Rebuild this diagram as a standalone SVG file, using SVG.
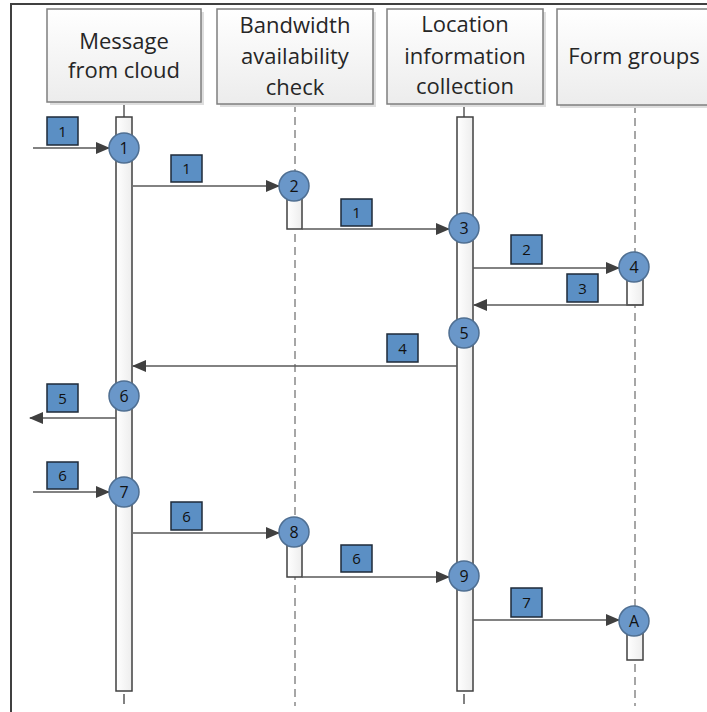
<svg xmlns="http://www.w3.org/2000/svg" width="707" height="712" viewBox="0 0 707 712">
<defs>
<linearGradient id="hg" x1="0" y1="0" x2="0" y2="1"><stop offset="0" stop-color="#ffffff"/><stop offset="1" stop-color="#ececec"/></linearGradient>
<linearGradient id="bg" x1="0" y1="0" x2="1" y2="0"><stop offset="0" stop-color="#ffffff"/><stop offset="1" stop-color="#ededed"/></linearGradient>
<marker id="ah" markerUnits="userSpaceOnUse" markerWidth="14" markerHeight="12" refX="13" refY="6" orient="auto"><path d="M0,0 L14,6 L0,12 z" fill="#404040"/></marker>
<style>
.frame{fill:none;stroke:#404040;stroke-width:2}
.hdr{fill:url(#hg);stroke:#7f7f7f;stroke-width:1.5}
.shd{fill:#dedede}
.ht{font-family:"Open Sans","Liberation Sans",sans-serif;font-size:22px;fill:#262626;text-anchor:middle}
.life{stroke:#a6a6a6;stroke-width:2;stroke-dasharray:8,5;fill:none}
.tick{stroke:#595959;stroke-width:1.5}
.bar{fill:url(#bg);stroke:#404040;stroke-width:1.5}
.msg{stroke:#595959;stroke-width:1.6;fill:none;marker-end:url(#ah)}
.lb{fill:#5b8fc4;stroke:#1e2a38;stroke-width:1.5}
.lt{font-family:"Open Sans","Liberation Sans",sans-serif;font-size:15px;fill:#111;text-anchor:middle}
.cc{fill:#6a97c9;stroke:#4f6f92;stroke-width:1.5}
.ct{font-family:"Open Sans","Liberation Sans",sans-serif;font-size:16px;fill:#111;text-anchor:middle}
</style>
</defs>
<rect width="707" height="712" fill="#ffffff"/>
<rect class="frame" x="11" y="4" width="720" height="730"/>

<g id="lifelines">
<line class="tick" x1="124" y1="102" x2="124" y2="117"/>
<line class="tick" x1="124" y1="694" x2="124" y2="704"/>
<line class="life" x1="295" y1="104" x2="295" y2="706"/>
<line class="tick" x1="464" y1="104" x2="464" y2="117"/>
<line class="tick" x1="464" y1="694" x2="464" y2="704"/>
<line class="life" x1="635" y1="105" x2="635" y2="706"/>
</g>

<g id="header-message">
<rect class="shd" x="50" y="12" width="154" height="93"/>
<rect class="hdr" x="47" y="9" width="154" height="93"/>
<text class="ht" x="124" y="49">Message</text>
<text class="ht" x="124" y="78">from cloud</text>
</g>
<g id="header-bandwidth">
<rect class="shd" x="220" y="12" width="156" height="95"/>
<rect class="hdr" x="217" y="9" width="156" height="95"/>
<text class="ht" x="295" y="33">Bandwidth</text>
<text class="ht" x="295" y="64">availability</text>
<text class="ht" x="295" y="95">check</text>
</g>
<g id="header-location">
<rect class="shd" x="390" y="12" width="156" height="95"/>
<rect class="hdr" x="387" y="9" width="156" height="95"/>
<text class="ht" x="465" y="32">Location</text>
<text class="ht" x="465" y="64">information</text>
<text class="ht" x="465" y="94">collection</text>
</g>
<g id="header-form">
<rect class="shd" x="560" y="12" width="156" height="96"/>
<rect class="hdr" x="557" y="9" width="156" height="96"/>
<text class="ht" x="634" y="64">Form groups</text>
</g>

<g id="activations">
<rect class="bar" x="116" y="117" width="16" height="574"/>
<rect class="bar" x="457" y="117" width="16" height="574"/>
<rect class="bar" x="287" y="196" width="15" height="33"/>
<rect class="bar" x="627" y="278" width="16" height="27"/>
<rect class="bar" x="287" y="543" width="15" height="34"/>
<rect class="bar" x="627" y="632" width="16" height="28"/>
</g>

<g id="connectors">
<line class="msg" x1="33" y1="148" x2="109" y2="148"/>
<line class="msg" x1="133" y1="186" x2="279" y2="186"/>
<line class="msg" x1="302" y1="229" x2="449" y2="229"/>
<line class="msg" x1="473" y1="268" x2="619" y2="268"/>
<line class="msg" x1="643" y1="305" x2="474" y2="305"/>
<line class="msg" x1="457" y1="366" x2="133" y2="366"/>
<line class="msg" x1="116" y1="418" x2="30" y2="418"/>
<line class="msg" x1="33" y1="492" x2="109" y2="492"/>
<line class="msg" x1="133" y1="533" x2="279" y2="533"/>
<line class="msg" x1="302" y1="577" x2="449" y2="577"/>
<line class="msg" x1="473" y1="620" x2="619" y2="620"/>
</g>

<g id="labels">
<g id="lbl-1a"><rect class="lb" x="47" y="117" width="31" height="28"/><text class="lt" x="62.5" y="136.5">1</text></g>
<g id="lbl-1b"><rect class="lb" x="171" y="155" width="31" height="27"/><text class="lt" x="186.5" y="174">1</text></g>
<g id="lbl-1c"><rect class="lb" x="341" y="199" width="31" height="27"/><text class="lt" x="356.5" y="218">1</text></g>
<g id="lbl-2"><rect class="lb" x="511" y="235" width="31" height="29"/><text class="lt" x="526.5" y="255">2</text></g>
<g id="lbl-3"><rect class="lb" x="567" y="274" width="31" height="28"/><text class="lt" x="582.5" y="293.5">3</text></g>
<g id="lbl-4"><rect class="lb" x="387" y="334" width="31" height="28"/><text class="lt" x="402.5" y="353.5">4</text></g>
<g id="lbl-5"><rect class="lb" x="47" y="384" width="31" height="28"/><text class="lt" x="62.5" y="403.5">5</text></g>
<g id="lbl-6a"><rect class="lb" x="47" y="462" width="31" height="27"/><text class="lt" x="62.5" y="481">6</text></g>
<g id="lbl-6b"><rect class="lb" x="171" y="502" width="31" height="28"/><text class="lt" x="186.5" y="521.5">6</text></g>
<g id="lbl-6c"><rect class="lb" x="341" y="545" width="31" height="27"/><text class="lt" x="356.5" y="564">6</text></g>
<g id="lbl-7"><rect class="lb" x="511" y="588" width="31" height="29"/><text class="lt" x="526.5" y="608">7</text></g>
</g>

<g id="node-1"><circle class="cc" cx="124" cy="148" r="15"/><text class="ct" x="124" y="154">1</text></g>
<g id="node-2"><circle class="cc" cx="294" cy="186" r="15"/><text class="ct" x="294" y="192">2</text></g>
<g id="node-3"><circle class="cc" cx="464" cy="228" r="15"/><text class="ct" x="464" y="234">3</text></g>
<g id="node-4"><circle class="cc" cx="634" cy="267" r="15"/><text class="ct" x="634" y="273">4</text></g>
<g id="node-5"><circle class="cc" cx="464" cy="333" r="15"/><text class="ct" x="464" y="339">5</text></g>
<g id="node-6"><circle class="cc" cx="124" cy="396" r="15"/><text class="ct" x="124" y="402">6</text></g>
<g id="node-7"><circle class="cc" cx="124" cy="492" r="15"/><text class="ct" x="124" y="498">7</text></g>
<g id="node-8"><circle class="cc" cx="294" cy="532" r="15"/><text class="ct" x="294" y="538">8</text></g>
<g id="node-9"><circle class="cc" cx="464" cy="576" r="15"/><text class="ct" x="464" y="582">9</text></g>
<g id="node-A"><circle class="cc" cx="634" cy="621" r="15"/><text class="ct" x="634" y="627">A</text></g>
</svg>
